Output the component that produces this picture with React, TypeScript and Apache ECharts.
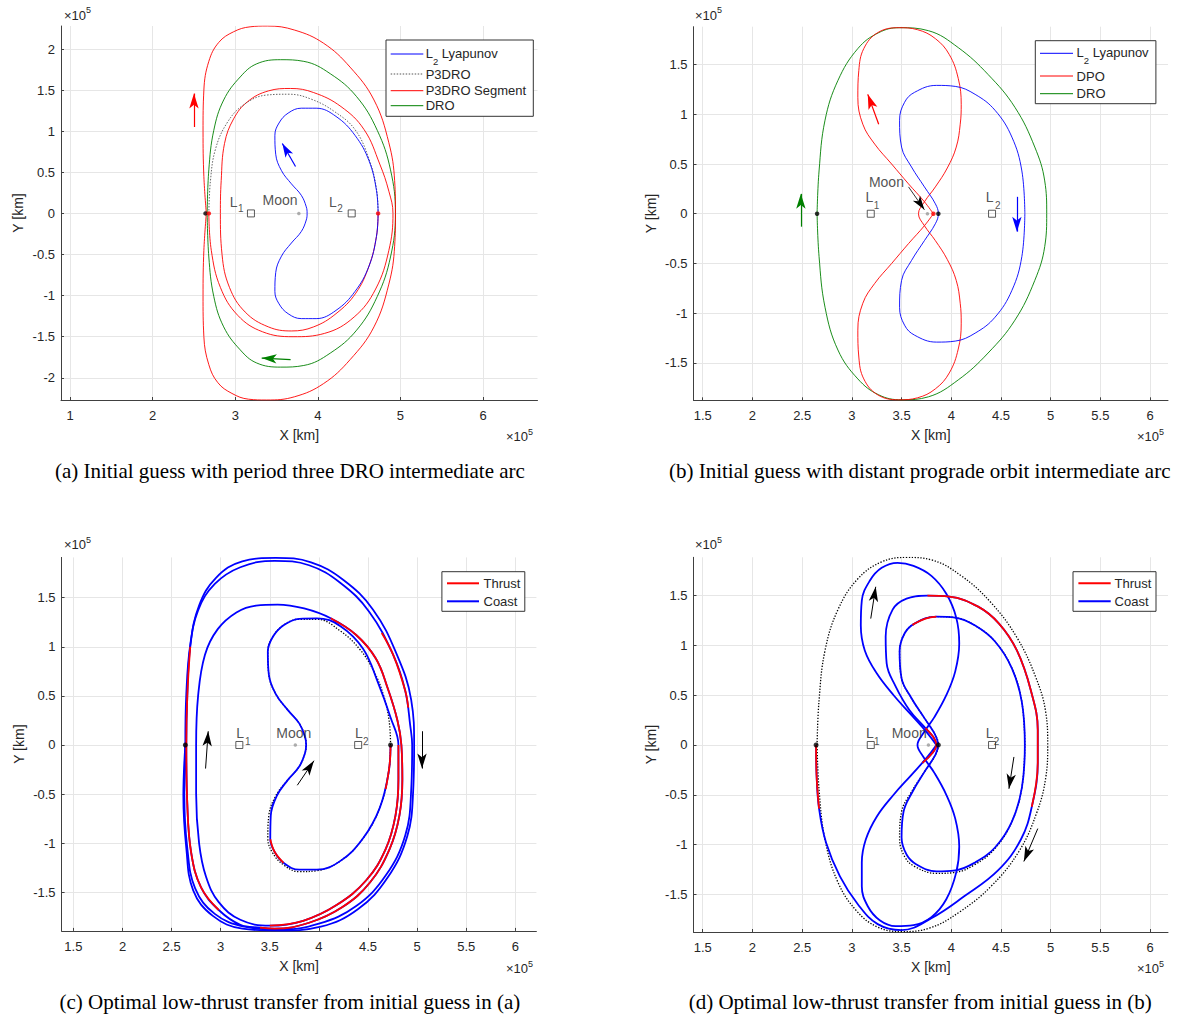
import { useEffect, useRef } from 'react';
import * as echarts from 'echarts';

type P = [number, number];

// ---------- tick values (x 10^5 km) ----------
const aXTicks = [1, 2, 3, 4, 5, 6];
const aYTicks = [-2, -1.5, -1, -0.5, 0, 0.5, 1, 1.5, 2];
const bXTicks = [1.5, 2, 2.5, 3, 3.5, 4, 4.5, 5, 5.5, 6];
const bYTicks = [-1.5, -1, -0.5, 0, 0.5, 1, 1.5];
const cXTicks = [1.5, 2, 2.5, 3, 3.5, 4, 4.5, 5, 5.5, 6];
const cYTicks = [-1.5, -1, -0.5, 0, 0.5, 1, 1.5];
const dXTicks = [1.5, 2, 2.5, 3, 3.5, 4, 4.5, 5, 5.5, 6];
const dYTicks = [-1.5, -1, -0.5, 0, 0.5, 1, 1.5];

// ---------- panel (a) ----------
const aLyapunov: P[] = [[4.73,0],[4.71,0.28],[4.62,0.64],[4.45,0.95],[4.22,1.18],[3.98,1.28],[3.80,1.28],[3.64,1.22],[3.53,1.10],[3.48,0.95],[3.49,0.72],[3.56,0.52],[3.68,0.36],[3.80,0.22],[3.86,0.08],[3.87,0],[3.86,-0.08],[3.80,-0.22],[3.68,-0.36],[3.56,-0.52],[3.49,-0.72],[3.48,-0.95],[3.53,-1.10],[3.64,-1.22],[3.80,-1.28],[3.98,-1.28],[4.22,-1.18],[4.45,-0.95],[4.62,-0.64],[4.71,-0.28],[4.73,0]];
const aP3DRO: P[] = [[2.68,0],[2.70,0.40],[2.76,0.78],[2.90,1.10],[3.10,1.32],[3.38,1.44],[3.65,1.45],[3.92,1.39],[4.20,1.24],[4.45,1.02],[4.62,0.66],[4.71,0.30],[4.73,0]];
const aSegmentInner: P[] = [[4.73,0],[4.71,-0.28],[4.62,-0.64],[4.46,-0.97],[4.22,-1.22],[3.95,-1.38],[3.68,-1.43],[3.40,-1.38],[3.12,-1.20],[2.93,-0.90],[2.84,-0.50],[2.82,0],[2.83,0.40],[2.87,0.85],[2.98,1.15],[3.15,1.36],[3.40,1.49],[3.67,1.52],[3.95,1.47],[4.28,1.30],[4.56,1.02],[4.75,0.60],[4.86,0.27],[4.91,0],[4.86,-0.45],[4.70,-0.92],[4.44,-1.26],[4.08,-1.46],[3.70,-1.50],[3.33,-1.44],[3.03,-1.24],[2.82,-0.90],[2.71,-0.45],[2.68,0]];
const aSegmentOuter: P[] = [[2.65,0],[2.62,0.45],[2.61,1.00],[2.62,1.50],[2.68,1.85],[2.80,2.08],[2.98,2.21],[3.18,2.27],[3.39,2.28],[3.72,2.23],[4.07,2.07],[4.39,1.78],[4.68,1.38],[4.86,0.86],[4.93,0.40],[4.94,0],[4.93,-0.40],[4.86,-0.86],[4.68,-1.38],[4.39,-1.78],[4.07,-2.07],[3.72,-2.23],[3.38,-2.27],[3.16,-2.26],[2.96,-2.19],[2.79,-2.06],[2.68,-1.84],[2.62,-1.50],[2.61,-1.00],[2.62,-0.45],[2.65,0]];
const aDRO: P[] = [[2.66,0],[2.68,0.53],[2.74,1.01],[2.86,1.38],[3.06,1.66],[3.26,1.82],[3.55,1.87],[3.83,1.85],[4.15,1.70],[4.47,1.42],[4.72,1.01],[4.88,0.53],[4.94,0],[4.88,-0.53],[4.72,-1.01],[4.47,-1.42],[4.15,-1.70],[3.83,-1.85],[3.55,-1.87],[3.26,-1.82],[3.06,-1.66],[2.86,-1.38],[2.74,-1.01],[2.68,-0.53],[2.66,0]];
const aBlackDots: P[] = [[2.64, 0]];
const aRedDots: P[] = [[2.68, 0], [4.73, 0]];
const aMoon: P = [3.77, 0];
const aL1: P = [3.19, 0];
const aL2: P = [4.41, 0];
const aArrowRed: P[] = [[2.50, 1.05], [2.50, 1.46]];
const aArrowBlue: P[] = [[3.73, 0.57], [3.57, 0.85]];
const aArrowGreen: P[] = [[3.67, -1.78], [3.32, -1.76]];

// ---------- panel (b) ----------
const bDRO: P[] = [[2.65,0],[2.67,0.43],[2.73,0.94],[2.86,1.34],[3.06,1.66],[3.27,1.82],[3.48,1.87],[3.77,1.84],[4.07,1.67],[4.37,1.40],[4.64,1.07],[4.84,0.67],[4.94,0.33],[4.96,0],[4.94,-0.33],[4.84,-0.67],[4.64,-1.07],[4.37,-1.40],[4.07,-1.67],[3.77,-1.84],[3.50,-1.87],[3.27,-1.82],[3.06,-1.66],[2.86,-1.37],[2.73,-0.94],[2.67,-0.43],[2.65,0]];
const bDPO: P[] = [[3.82,0],[3.73,0.12],[3.57,0.30],[3.40,0.50],[3.23,0.70],[3.11,0.90],[3.06,1.17],[3.07,1.44],[3.12,1.66],[3.26,1.82],[3.47,1.87],[3.66,1.85],[3.84,1.76],[3.98,1.60],[4.07,1.36],[4.10,1.10],[4.09,0.90],[4.05,0.67],[3.96,0.46],[3.84,0.27],[3.73,0.12],[3.67,0],[3.73,-0.12],[3.84,-0.27],[3.96,-0.46],[4.05,-0.67],[4.09,-0.90],[4.10,-1.10],[4.07,-1.36],[3.98,-1.60],[3.84,-1.76],[3.66,-1.85],[3.47,-1.87],[3.26,-1.82],[3.12,-1.66],[3.07,-1.44],[3.06,-1.17],[3.11,-0.90],[3.23,-0.70],[3.40,-0.50],[3.57,-0.30],[3.73,-0.12],[3.82,0]];
const bLyapunov: P[] = [[4.74,0],[4.71,0.43],[4.61,0.77],[4.44,1.04],[4.24,1.20],[4.04,1.28],[3.85,1.29],[3.63,1.22],[3.53,1.12],[3.48,0.94],[3.50,0.67],[3.60,0.47],[3.73,0.27],[3.84,0.10],[3.87,0],[3.84,-0.10],[3.73,-0.27],[3.60,-0.47],[3.50,-0.67],[3.48,-0.94],[3.53,-1.12],[3.63,-1.22],[3.85,-1.29],[4.04,-1.28],[4.24,-1.20],[4.44,-1.04],[4.61,-0.77],[4.71,-0.43],[4.74,0]];
const bBlackDots: P[] = [[2.65, 0], [3.87, 0]];
const bRedDots: P[] = [[3.82, 0]];
const bMoon: P = [3.76, 0];
const bL1: P = [3.19, 0];
const bL2: P = [4.41, 0];
const bArrowGreen: P[] = [[2.487, -0.13], [2.487, 0.20]];
const bArrowRed: P[] = [[3.27, 0.90], [3.16, 1.20]];
const bArrowBlue: P[] = [[4.66, 0.17], [4.66, -0.18]];
const bArrowMoon: P[] = [[3.57, 0.27], [3.73, 0.04]];

// ---------- panel (c) ----------
const cLyapunovRef: P[] = [[4.73,0],[4.715,0.25],[4.66,0.50],[4.56,0.75],[4.42,0.97],[4.22,1.16],[3.98,1.28],[3.80,1.28],[3.64,1.22],[3.53,1.10],[3.48,0.95],[3.49,0.72],[3.56,0.52],[3.68,0.36],[3.80,0.22],[3.86,0.08],[3.87,0],[3.86,-0.08],[3.80,-0.22],[3.68,-0.36],[3.56,-0.52],[3.49,-0.72],[3.48,-0.95],[3.53,-1.10],[3.64,-1.22],[3.80,-1.29],[3.98,-1.28],[4.22,-1.18],[4.45,-0.95],[4.62,-0.64],[4.71,-0.28],[4.73,0]];
const cCoast: P[] = [[4.73,0],[4.71,-0.28],[4.62,-0.64],[4.45,-0.95],[4.22,-1.18],[3.98,-1.27],[3.80,-1.27],[3.64,-1.20],[3.55,-1.09],[3.505,-0.96],[3.51,-0.72],[3.57,-0.52],[3.68,-0.36],[3.80,-0.22],[3.86,-0.08],[3.87,0],[3.86,0.08],[3.80,0.22],[3.68,0.36],[3.56,0.52],[3.49,0.72],[3.48,0.95],[3.53,1.10],[3.64,1.22],[3.80,1.285],[3.98,1.29],[4.22,1.21],[4.45,0.98],[4.60,0.64],[4.73,0.28],[4.81,0],[4.81,-0.35],[4.78,-0.72],[4.68,-1.06],[4.48,-1.38],[4.18,-1.63],[3.84,-1.79],[3.50,-1.84],[3.20,-1.78],[2.98,-1.60],[2.85,-1.34],[2.78,-1.00],[2.75,-0.50],[2.75,0],[2.77,0.50],[2.84,0.92],[2.97,1.18],[3.16,1.35],[3.36,1.42],[3.58,1.43],[3.85,1.39],[4.12,1.29],[4.38,1.12],[4.58,0.88],[4.70,0.58],[4.80,0.25],[4.84,0],[4.85,-0.35],[4.82,-0.72],[4.72,-1.06],[4.52,-1.40],[4.24,-1.65],[3.90,-1.81],[3.55,-1.87],[3.40,-1.86],[3.20,-1.83],[2.98,-1.68],[2.80,-1.45],[2.70,-1.10],[2.66,-0.60],[2.65,0],[2.66,0.50],[2.69,1.00],[2.77,1.37],[2.94,1.64],[3.20,1.81],[3.55,1.875],[3.90,1.83],[4.22,1.65],[4.51,1.36],[4.76,0.91],[4.88,0.55],[4.93,0.20],[4.95,0],[4.94,-0.46],[4.88,-0.92],[4.68,-1.33],[4.38,-1.64],[4.00,-1.82],[3.60,-1.88],[3.24,-1.85],[2.94,-1.72],[2.74,-1.46],[2.66,-1.05],[2.63,-0.52],[2.64,0]];
const cDRO: P[] = [[2.64,0],[2.65,0.52],[2.69,1.02],[2.78,1.42],[2.95,1.70],[3.22,1.87],[3.56,1.905],[3.92,1.86],[4.25,1.68],[4.55,1.38],[4.79,0.93],[4.94,0.46],[4.97,0],[4.96,-0.47],[4.90,-0.93],[4.70,-1.35],[4.40,-1.67],[4.02,-1.85],[3.59,-1.89],[3.22,-1.87],[2.92,-1.74],[2.72,-1.48],[2.65,-1.05],[2.62,-0.52],[2.64,0]];
const cThrust1: P[] = [[4.73,0],[4.72,-0.2],[4.68,-0.45]];
const cThrust2: P[] = [[3.64,-1.20],[3.55,-1.09],[3.505,-0.96]];
const cThrust3: P[] = [[4.12,1.29],[4.38,1.12],[4.58,0.88],[4.70,0.58],[4.80,0.25],[4.84,0],[4.85,-0.35],[4.82,-0.72],[4.72,-1.06],[4.52,-1.40],[4.24,-1.65],[3.90,-1.81],[3.55,-1.87],[3.40,-1.86]];
const cThrust4: P[] = [[2.98,-1.68],[2.80,-1.45],[2.70,-1.10],[2.66,-0.60],[2.65,0],[2.66,0.50],[2.69,1.00]];
const cThrust5: P[] = [[4.64,1.14],[4.76,0.91],[4.88,0.55],[4.91,0.38]];
const cThrust6: P[] = [[4.81,0],[4.81,-0.35],[4.78,-0.72],[4.68,-1.06],[4.48,-1.38],[4.18,-1.63],[3.84,-1.79],[3.50,-1.84]];
const cBlackDots: P[] = [[2.64, 0], [4.73, 0]];
const cMoon: P = [3.76, 0];
const cL1: P = [3.19, 0];
const cL2: P = [4.40, 0];
const cArrowLeft: P[] = [[2.846, -0.24], [2.873, 0.14]];
const cArrowCenter: P[] = [[3.78, -0.41], [3.95, -0.16]];
const cArrowRight: P[] = [[5.05, 0.14], [5.05, -0.24]];

// ---------- panel (d) ----------
const dDRORef: P[] = [[2.65,0],[2.67,0.45],[2.73,0.95],[2.86,1.36],[3.06,1.67],[3.30,1.84],[3.55,1.885],[3.80,1.86],[4.10,1.70],[4.40,1.43],[4.66,1.08],[4.85,0.68],[4.95,0.33],[4.97,0],[4.95,-0.33],[4.86,-0.68],[4.68,-1.07],[4.40,-1.42],[4.08,-1.68],[3.78,-1.84],[3.50,-1.875],[3.26,-1.83],[3.05,-1.67],[2.86,-1.38],[2.73,-0.95],[2.67,-0.45],[2.65,0]];
const dLyapunovRef: P[] = [[4.74,0],[4.71,0.43],[4.61,0.77],[4.44,1.04],[4.24,1.20],[4.04,1.28],[3.85,1.29],[3.63,1.22],[3.53,1.12],[3.48,0.94],[3.50,0.67],[3.60,0.47],[3.73,0.27],[3.84,0.10],[3.87,0],[3.84,-0.10],[3.73,-0.27],[3.60,-0.47],[3.50,-0.67],[3.48,-0.94],[3.53,-1.12],[3.63,-1.22],[3.85,-1.29],[4.04,-1.28],[4.24,-1.20],[4.44,-1.04],[4.61,-0.77],[4.71,-0.43],[4.74,0]];
const dDPO: P[] = [[3.85,0],[3.76,0.12],[3.60,0.30],[3.42,0.50],[3.25,0.72],[3.13,0.95],[3.09,1.20],[3.10,1.45],[3.18,1.65],[3.30,1.78],[3.46,1.83],[3.62,1.80],[3.80,1.70],[3.95,1.52],[4.05,1.28],[4.08,1.02],[4.04,0.74],[3.95,0.50],[3.83,0.28],[3.72,0.12],[3.66,0],[3.72,-0.12],[3.83,-0.28],[3.95,-0.50],[4.04,-0.74],[4.08,-1.02],[4.05,-1.28],[3.95,-1.55],[3.80,-1.73],[3.62,-1.81],[3.44,-1.82],[3.28,-1.76],[3.16,-1.62],[3.10,-1.42],[3.10,-1.18],[3.14,-0.95],[3.25,-0.72],[3.42,-0.50],[3.60,-0.30],[3.76,-0.12],[3.85,0]];
const dKidney: P[] = [[3.87,0],[3.84,0.10],[3.73,0.27],[3.60,0.47],[3.50,0.67],[3.48,0.94],[3.53,1.12],[3.63,1.22],[3.85,1.29],[4.04,1.28],[4.24,1.20],[4.44,1.04],[4.61,0.77],[4.71,0.43],[4.74,0],[4.71,-0.43],[4.61,-0.77],[4.44,-1.03],[4.24,-1.18],[4.04,-1.26],[3.85,-1.27],[3.65,-1.20],[3.55,-1.10],[3.50,-0.93],[3.52,-0.67],[3.61,-0.47],[3.73,-0.27],[3.84,-0.10],[3.87,0]];
const dLobe: P[] = [[3.71,-0.18],[3.81,-0.08],[3.85,0],[3.82,0.08],[3.74,0.17],[3.58,0.35],[3.44,0.59],[3.35,0.82],[3.34,1.09],[3.41,1.36],[3.55,1.47],[3.76,1.50],[3.98,1.49],[4.27,1.39],[4.48,1.22],[4.66,0.95],[4.80,0.55],[4.87,0.15],[4.87,-0.18],[4.81,-0.62],[4.70,-0.95],[4.47,-1.26],[4.13,-1.52],[3.80,-1.74],[3.50,-1.86],[3.26,-1.80],[3.06,-1.60],[2.88,-1.32],[2.74,-0.98],[2.67,-0.64],[2.645,-0.30],[2.64,0]];
const dThrustArc: P[] = [[3.76,1.50],[3.98,1.49],[4.27,1.39],[4.48,1.22],[4.66,0.95],[4.80,0.55],[4.87,0.15],[4.87,-0.18],[4.81,-0.62]];
const dThrustEnd: P[] = [[2.67,-0.64],[2.645,-0.30],[2.64,0]];
const dThrustCenter: P[] = [[3.71,-0.18],[3.81,-0.08],[3.85,0],[3.82,0.08],[3.74,0.17]];
const dThrustKidney: P[] = [[3.61,1.205],[3.63,1.22],[3.74,1.27],[3.85,1.29]];
const dBlackDots: P[] = [[2.64, 0], [3.87, 0]];
const dMoon: P = [3.77, 0];
const dL1: P = [3.19, 0];
const dL2: P = [4.41, 0];
const dArrowUp: P[] = [[3.19, 1.27], [3.24, 1.59]];
const dArrowMid: P[] = [[4.63, -0.12], [4.58, -0.44]];
const dArrowLow: P[] = [[4.87, -0.84], [4.73, -1.17]];

// ---------- texts ----------
const captions = [
  '(a) Initial guess with period three DRO intermediate arc',
  '(b) Initial guess with distant prograde orbit intermediate arc',
  '(c) Optimal low-thrust transfer from initial guess in (a)',
  '(d) Optimal low-thrust transfer from initial guess in (b)',
];
const legendA = ['L2 Lyapunov', 'P3DRO', 'P3DRO Segment', 'DRO'];
const legendB = ['L2 Lyapunov', 'DPO', 'DRO'];
const legendCD = ['Thrust', 'Coast'];

// ---------- style ----------
const FONT = 'Liberation Sans, Arial, Helvetica, sans-serif';
const SERIF = 'Liberation Serif, Times New Roman, serif';
const TXT = '#262626';
const AXIS = '#404040';
const GRID = '#e6e6e6';
const BLUE = '#0000ff';
const RED = '#ff0000';
const GREEN = '#008000';
const ARROW = 'path://M0,0 M32,32 M16,16 L21,32 L16,28 L11,32 Z';

const fmt = (v: number) => String(+Number(v).toFixed(2));

function xAxisFor(i: number, min: number, max: number, ticks: number[]) {
  return {
    type: 'value', gridIndex: i, min, max,
    name: 'X [km]', nameLocation: 'middle', nameGap: 28,
    nameTextStyle: { fontSize: 14, color: TXT, fontFamily: FONT },
    axisLine: { show: true, onZero: false, lineStyle: { color: AXIS, width: 1 } },
    axisTick: { show: true, inside: true, length: 3, customValues: ticks, lineStyle: { color: AXIS, width: 1 } },
    axisLabel: { show: true, customValues: ticks, margin: 9, fontSize: 13, color: TXT, fontFamily: FONT, formatter: fmt },
    splitLine: { show: true, lineStyle: { color: GRID, width: 1 } },
  };
}
function yAxisFor(i: number, min: number, max: number, ticks: number[]) {
  return {
    type: 'value', gridIndex: i, min, max,
    name: 'Y [km]', nameLocation: 'middle', nameGap: 36, nameRotate: 90,
    nameTextStyle: { fontSize: 14, color: TXT, fontFamily: FONT },
    axisLine: { show: true, onZero: false, lineStyle: { color: AXIS, width: 1 } },
    axisTick: { show: true, inside: true, length: 3, customValues: ticks, lineStyle: { color: AXIS, width: 1 } },
    axisLabel: { show: true, customValues: ticks, margin: 6, fontSize: 13, color: TXT, fontFamily: FONT, formatter: fmt },
    splitLine: { show: true, lineStyle: { color: GRID, width: 1 } },
  };
}

function curve(name: string, data: P[], gi: number, color: string, width: number, dash?: number[], z = 2) {
  return {
    type: 'line', name, data, xAxisIndex: gi, yAxisIndex: gi,
    showSymbol: false, symbol: 'none', smooth: 0.4, silent: true, z,
    lineStyle: { color, width, type: dash || 'solid' },
  };
}
function arrow(name: string, coords: P[], gi: number, color: string, width: number, size = 30) {
  return {
    type: 'lines', name, coordinateSystem: 'cartesian2d', xAxisIndex: gi, yAxisIndex: gi,
    symbol: ['none', ARROW], symbolSize: size, silent: true, z: 12,
    lineStyle: { color, width, opacity: 1, curveness: 0 },
    data: [{ coords }],
  };
}
function dots(name: string, data: P[], gi: number, color: string, size: number) {
  return {
    type: 'scatter', name, data, xAxisIndex: gi, yAxisIndex: gi,
    symbol: 'circle', symbolSize: size, silent: true, z: 10,
    itemStyle: { color, borderWidth: 0 },
  };
}
function plainLabel(text: string, size: number, dx: number, dy: number, align: string) {
  return {
    show: true, position: 'inside', formatter: text, align, verticalAlign: 'bottom', offset: [dx, dy],
    fontSize: size, lineHeight: size, fontFamily: FONT, color: TXT,
  };
}
// point label "L" + subscript digit, each a plain text label anchored to the same point
function lagrange(name: string, pt: P, gi: number, digit: string, off: number[]) {
  return {
    type: 'scatter', name, xAxisIndex: gi, yAxisIndex: gi, silent: true, z: 11,
    symbol: 'rect', symbolSize: 7,
    itemStyle: { color: 'rgba(255,255,255,0)', borderColor: '#333', borderWidth: 1 },
    data: [
      { value: pt, label: plainLabel('L', 14, off[0], off[1], 'left') },
      {
        value: pt, symbolSize: 0, itemStyle: { borderWidth: 0, color: 'rgba(0,0,0,0)' },
        label: plainLabel(digit, 10, off[2], off[3], 'left'),
      },
    ],
  };
}
function moon(name: string, pt: P, gi: number, dx: number, dy: number, align: string) {
  return {
    type: 'scatter', name, xAxisIndex: gi, yAxisIndex: gi, silent: true, z: 11,
    symbol: 'circle', symbolSize: 3.5, itemStyle: { color: '#9a9a9a' },
    data: [{ value: pt, label: plainLabel('Moon', 14, dx, dy, align) }],
  };
}

// legend graphics (pixel layout)
const zRich = {
  m: { fontSize: 13, lineHeight: 13, verticalAlign: 'top', fontFamily: FONT, fill: TXT },
  s: { fontSize: 9.5, lineHeight: 10, padding: [9.5, 0, 0, 0], verticalAlign: 'top', fontFamily: FONT, fill: TXT },
};
function legendText(label: string) {
  if (label.startsWith('L2 ')) return '{m|L}{s|2}{m| ' + label.slice(3) + '}';
  return label;
}
function legend(box: number[], rows: number[], lx: number[], tx: number, labels: string[], styles: any[]) {
  const els: any[] = [{
    type: 'rect', shape: { x: box[0], y: box[1], width: box[2], height: box[3] },
    style: { fill: '#fff', stroke: '#333', lineWidth: 1 }, z: 100,
  }];
  labels.forEach((lab, i) => {
    els.push({
      type: 'line', shape: { x1: lx[0], y1: rows[i], x2: lx[1], y2: rows[i] },
      style: { stroke: styles[i].color, lineWidth: styles[i].width, lineDash: styles[i].dash || null }, z: 101,
    });
    const sub = lab.startsWith('L2 ');
    els.push({
      type: 'text', x: tx, y: sub ? rows[i] - 0.5 : rows[i], z: 101,
      style: {
        text: legendText(lab), rich: zRich, fontSize: 13, fontFamily: FONT, fill: TXT,
        align: 'left', verticalAlign: 'middle',
      },
    });
  });
  return els;
}
const supRich = {
  m: { fontSize: 13, lineHeight: 13, verticalAlign: 'bottom', fontFamily: FONT, fill: TXT },
  p: { fontSize: 9, lineHeight: 9, padding: [0, 0, 7, 0], verticalAlign: 'bottom', fontFamily: FONT, fill: TXT },
};
function exp10(x: number, y: number) {
  return { type: 'text', x, y, z: 100, style: { text: '{m|×10}{p|5}', rich: supRich, align: 'left', verticalAlign: 'top' } };
}
function caption(text: string, x: number, y: number) {
  return { type: 'text', x, y, z: 100, style: { text, fontSize: 21, fontFamily: SERIF, fill: '#000', align: 'center', verticalAlign: 'middle' } };
}

function buildOption() {
  const grids = [
    { left: 61, top: 26, width: 476.5, height: 374 },
    { left: 693.5, top: 26.7, width: 474.5, height: 373.6 },
    { left: 61.6, top: 557.4, width: 474.8, height: 373.5 },
    { left: 693.5, top: 557.3, width: 474.5, height: 374.7 },
  ];
  const xAxes = [
    xAxisFor(0, 0.89, 6.66, aXTicks),
    xAxisFor(1, 1.407, 6.18, bXTicks),
    xAxisFor(2, 1.38, 6.215, cXTicks),
    xAxisFor(3, 1.407, 6.18, dXTicks),
  ];
  const yAxes = [
    yAxisFor(0, -2.27, 2.28, aYTicks),
    yAxisFor(1, -1.875, 1.88, bYTicks),
    yAxisFor(2, -1.893, 1.91, cYTicks),
    yAxisFor(3, -1.879, 1.886, dYTicks),
  ];
  const TW = 1.8;
  const LW = 0.9;
  const dotted = [1.3, 1.6];
  const series: any[] = [
    // (a)
    curve('DRO', aDRO, 0, GREEN, LW),
    curve('P3DRO Segment', aSegmentOuter, 0, RED, LW),
    curve('P3DRO Segment', aSegmentInner, 0, RED, LW),
    curve('P3DRO', aP3DRO, 0, '#555', 0.9, [1.5, 1.5]),
    curve('L2 Lyapunov', aLyapunov, 0, BLUE, LW),
    dots('a black', aBlackDots, 0, '#000', 4.5),
    dots('a red', aRedDots, 0, RED, 4.5),
    moon('a moon', aMoon, 0, -1.3, -6.2, 'right'),
    lagrange('a L1', aL1, 0, '1', [-21.3, -4.45, -12.9, 0]),
    lagrange('a L2', aL2, 0, '2', [-22.7, -4.45, -14.4, 0]),
    arrow('a arrow red', aArrowRed, 0, RED, 1.2),
    arrow('a arrow blue', aArrowBlue, 0, BLUE, 1.2, 28),
    arrow('a arrow green', aArrowGreen, 0, GREEN, 1.2),
    // (b)
    curve('DRO', bDRO, 1, GREEN, LW),
    curve('DPO', bDPO, 1, RED, LW),
    curve('L2 Lyapunov', bLyapunov, 1, BLUE, LW),
    dots('b black', bBlackDots, 1, '#000', 4.5),
    dots('b red', bRedDots, 1, RED, 4.5),
    moon('b moon', bMoon, 1, -58.5, -24.4, 'left'),
    lagrange('b L1', bL1, 1, '1', [-5.2, -9.45, 3.1, -3.5]),
    lagrange('b L2', bL2, 1, '2', [-6.3, -9.45, 3.0, -3.5]),
    arrow('b arrow green', bArrowGreen, 1, GREEN, 1.2),
    arrow('b arrow red', bArrowRed, 1, RED, 1.2),
    arrow('b arrow blue', bArrowBlue, 1, BLUE, 1.2),
    arrow('b arrow moon', bArrowMoon, 1, '#000', 0.8, 28),
    // (c)
    curve('Lyapunov ref', cLyapunovRef, 2, '#000', 1.3, dotted, 1),
    curve('Coast', cCoast, 2, BLUE, TW, undefined, 2),
    curve('Coast', cDRO, 2, BLUE, TW, undefined, 2),
    curve('Thrust', cThrust1, 2, RED, TW, undefined, 3),
    curve('Thrust', cThrust2, 2, RED, TW, undefined, 3),
    curve('Thrust', cThrust3, 2, RED, TW, undefined, 3),
    curve('Thrust', cThrust4, 2, RED, TW, undefined, 3),
    curve('Thrust', cThrust5, 2, RED, TW, undefined, 3),
    curve('Thrust', cThrust6, 2, RED, TW, undefined, 3),
    dots('c black', cBlackDots, 2, '#000', 5),
    moon('c moon', cMoon, 2, -1.5, -4.5, 'center'),
    lagrange('c L1', cL1, 2, '1', [-3.1, -4.55, 5.6, 1.5]),
    lagrange('c L2', cL2, 2, '2', [-3.2, -4.55, 4.8, 1.5]),
    arrow('c arrow left', cArrowLeft, 2, '#000', 1),
    arrow('c arrow center', cArrowCenter, 2, '#000', 1),
    arrow('c arrow right', cArrowRight, 2, '#000', 1),
    // (d)
    curve('DRO ref', dDRORef, 3, '#000', 1.3, dotted, 1),
    curve('Lyapunov ref', dLyapunovRef, 3, '#000', 1.3, dotted, 1),
    curve('Coast', dDPO, 3, BLUE, TW, undefined, 2),
    curve('Coast', dKidney, 3, BLUE, TW, undefined, 2),
    curve('Coast', dLobe, 3, BLUE, TW, undefined, 2),
    curve('Thrust', dThrustArc, 3, RED, TW, undefined, 3),
    curve('Thrust', dThrustEnd, 3, RED, TW, undefined, 3),
    curve('Thrust', dThrustCenter, 3, RED, TW, undefined, 3),
    curve('Thrust', dThrustKidney, 3, RED, TW, undefined, 3),
    dots('d black', dBlackDots, 3, '#000', 5),
    moon('d moon', dMoon, 3, -1.7, -4.5, 'right'),
    lagrange('d L1', dL1, 3, '1', [-4.7, -4.55, 3.3, 1.5]),
    lagrange('d L2', dL2, 3, '2', [-6.2, -4.55, 1.8, 1.5]),
    arrow('d arrow up', dArrowUp, 3, '#000', 1),
    arrow('d arrow mid', dArrowMid, 3, '#000', 1),
    arrow('d arrow low', dArrowLow, 3, '#000', 1),
  ];

  const graphics: any[] = [
    ...legend([386, 40, 147.3, 76.3], [54, 74, 90.7, 105.7], [390.7, 423.3], 425.7, legendA, [
      { color: BLUE, width: 1 }, { color: '#555', width: 1, dash: [1.5, 1.5] }, { color: RED, width: 1 }, { color: GREEN, width: 1 },
    ]),
    ...legend([1035.3, 40.7, 120.6, 63], [53.3, 76, 93.7], [1040, 1073], 1076.6, legendB, [
      { color: BLUE, width: 1 }, { color: RED, width: 1 }, { color: GREEN, width: 1 },
    ]),
    ...legend([441.9, 571.7, 82.9, 39.6], [583.3, 601.3], [447, 479], 483.5, legendCD, [
      { color: RED, width: 2 }, { color: BLUE, width: 2 },
    ]),
    ...legend([1073, 571.7, 83, 39.6], [583.3, 601.3], [1078.4, 1110.7], 1114.6, legendCD, [
      { color: RED, width: 2 }, { color: BLUE, width: 2 },
    ]),
    exp10(64, 8.6), exp10(506, 430.3),
    exp10(695, 8.6), exp10(1137, 430.3),
    exp10(64, 538.3), exp10(506, 962.3),
    exp10(695, 538.3), exp10(1137, 962.3),
    caption(captions[0], 289.9, 471),
    caption(captions[1], 919.7, 471),
    caption(captions[2], 289.9, 1002),
    caption(captions[3], 920.2, 1002),
  ];

  return {
    animation: false,
    backgroundColor: '#ffffff',
    textStyle: { fontFamily: FONT },
    grid: grids.map((g) => ({ ...g, containLabel: false, outerBoundsMode: 'none', show: false })),
    xAxis: xAxes,
    yAxis: yAxes,
    series,
    graphic: { elements: graphics },
  };
}

export default function App() {
  const ref = useRef<HTMLDivElement>(null);
  useEffect(() => {
    if (!ref.current) return;
    const chart = echarts.init(ref.current, undefined, { renderer: 'svg' });
    chart.setOption(buildOption() as any);
    return () => chart.dispose();
  }, []);
  return (
    <div
      ref={ref}
      style={{ position: 'absolute', left: 0, top: 0, width: 1180, height: 1022, background: '#fff' }}
    />
  );
}
